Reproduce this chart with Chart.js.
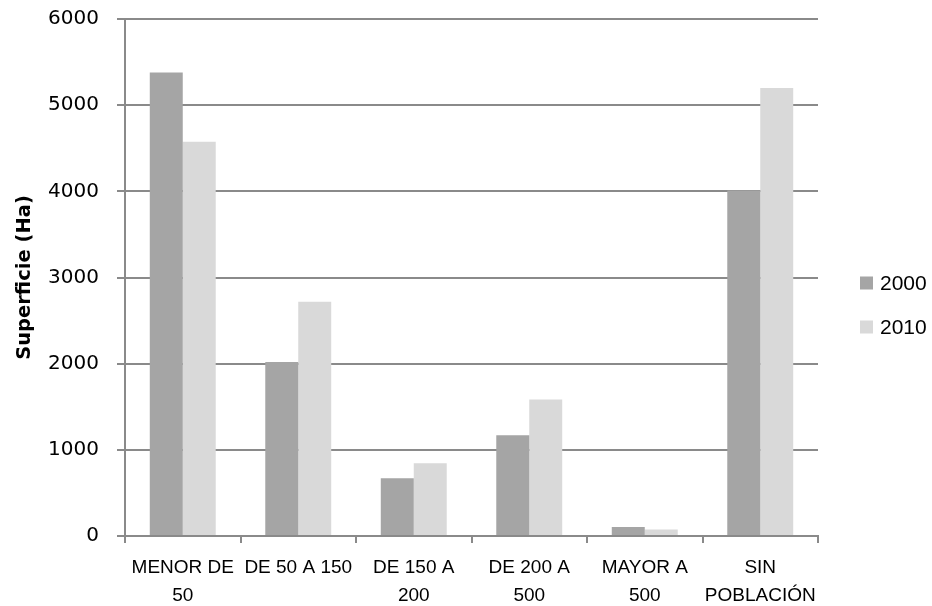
<!DOCTYPE html>
<html>
<head>
<meta charset="utf-8">
<script src="https://cdn.jsdelivr.net/npm/chart.js@4/dist/chart.umd.min.js"></script>
<style>
  html, body { margin: 0; padding: 0; background: #ffffff; }
  #wrap { width: 932px; height: 606px; position: relative; }
</style>
</head>
<body>
<div id="wrap"><canvas id="c" width="932" height="606"></canvas></div>
<script>
// Superficie por rango de densidad de población
const categories = [
  ["MENOR DE", "50"],
  ["DE 50 A 150"],
  ["DE 150 A", "200"],
  ["DE 200 A", "500"],
  ["MAYOR A", "500"],
  ["SIN", "POBLACIÓN"]
];
const seriesNames = ["2000", "2010"];
const values2000 = [5380, 2020, 670, 1170, 105, 4010];
const values2010 = [4575, 2720, 845, 1585, 75, 5200];
const yTicks = [0, 1000, 2000, 3000, 4000, 5000, 6000];

const colors = ["#a5a5a5", "#d9d9d9"];
const gridColor = "#8a8a8a";

// Legend drawn to the right of the plot area
const sideLegend = {
  id: 'sideLegend',
  afterDraw(chart) {
    const ctx = chart.ctx;
    const area = chart.chartArea;
    const x0 = area.right + 42;
    const yCenters = [283, 327];
    ctx.save();
    ctx.font = '21px "Liberation Sans", Arial, sans-serif';
    ctx.textBaseline = 'middle';
    ctx.textAlign = 'left';
    chart.data.datasets.forEach((ds, i) => {
      const yc = yCenters[i];
      ctx.fillStyle = ds.backgroundColor;
      ctx.fillRect(x0, yc - 6.5, 13, 13);
      ctx.fillStyle = '#000000';
      ctx.fillText(ds.label, x0 + 20, yc + 1);
    });
    ctx.restore();
  }
};

new Chart(document.getElementById('c'), {
  type: 'bar',
  data: {
    labels: categories,
    datasets: [
      { label: seriesNames[0], data: values2000, backgroundColor: colors[0] },
      { label: seriesNames[1], data: values2010, backgroundColor: colors[1] }
    ]
  },
  options: {
    responsive: false,
    animation: false,
    devicePixelRatio: 1,
    layout: { padding: { top: 19, right: 114, bottom: 0, left: 0 } },
    datasets: {
      bar: { categoryPercentage: 0.571, barPercentage: 1.0, borderWidth: 0 }
    },
    plugins: {
      legend: { display: false },
      tooltip: { enabled: false }
    },
    scales: {
      x: {
        offset: true,
        afterFit(scale) { scale.height = 70; },
        grid: {
          display: true,
          offset: true,
          drawOnChartArea: false,
          drawTicks: true,
          tickLength: 7,
          color: gridColor,
          lineWidth: 2
        },
        border: { display: true, color: gridColor, width: 2 },
        ticks: {
          color: '#000000',
          font: { family: '"Liberation Sans", Arial, sans-serif', size: 19, lineHeight: 1.45 },
          padding: 11,
          maxRotation: 0,
          autoSkip: false
        }
      },
      y: {
        min: 0,
        max: 6000,
        afterBuildTicks(scale) {
          scale.ticks = yTicks.map(v => ({ value: v }));
        },
        afterFit(scale) {
          scale.width = 125;
          scale.paddingTop = 0;
          scale.paddingBottom = 0;
        },
        grid: {
          color: gridColor,
          lineWidth: 2,
          tickLength: 8,
          drawTicks: true
        },
        border: { display: true, color: gridColor, width: 2 },
        ticks: {
          color: '#000000',
          font: { family: '"DejaVu Sans", sans-serif', size: 20 },
          padding: 18,
          callback: (v) => String(v)
        },
        title: {
          display: true,
          text: 'Superficie (Ha)',
          color: '#000000',
          font: { family: '"DejaVu Sans", sans-serif', size: 19.5, weight: 'bold' },
          padding: { top: 13, bottom: 13 }
        }
      }
    }
  },
  plugins: [sideLegend]
});
</script>
</body>
</html>
